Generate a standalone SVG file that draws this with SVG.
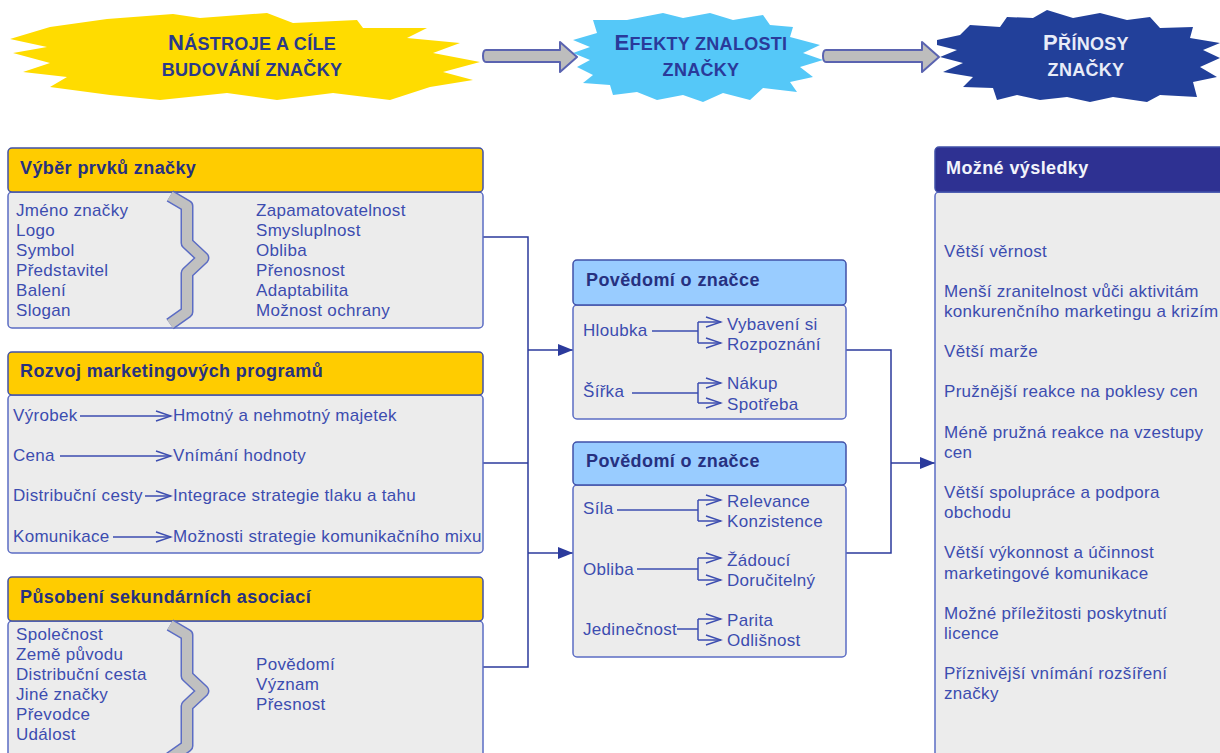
<svg xmlns="http://www.w3.org/2000/svg" width="1220" height="753" viewBox="0 0 1220 753">
  <style>
    text { font-family: "Liberation Sans", Arial, sans-serif; }
    .burst-title { font-weight: bold; font-size: 18px; text-anchor: middle; letter-spacing: 0.3px; }
    .burst-title .cap { font-size: 22px; }
    .hdr-y { fill: #ffcc00; stroke: #4050a8; stroke-width: 1.5; }
    .hdr-b { fill: #99ccff; stroke: #4050a8; stroke-width: 1.5; }
    .hdr-d { fill: #2e3192; stroke: #4050a8; stroke-width: 1.5; }
    .body { fill: #ececec; stroke: #5b6cc4; stroke-width: 1.5; }
    .title { font-weight: bold; font-size: 18px; fill: #263080; letter-spacing: 0.4px; }
    .title-w { font-weight: bold; font-size: 18px; fill: #f2f4fb; letter-spacing: 0.4px; }
    .txt { font-size: 17px; fill: #3c4db0; letter-spacing: 0.3px; }
    .conn { fill: none; stroke: #2b3a9c; stroke-width: 1.5; }
    .inner { fill: none; stroke: #3c4db0; stroke-width: 1.5; }
    .brace-out { fill: none; stroke: #5b6cc4; stroke-width: 13; stroke-linejoin: round; }
    .brace-in { fill: none; stroke: #c0c0c0; stroke-width: 10; stroke-linejoin: round; }
    .block-arrow { fill: #bdbdbd; stroke: #5a63b0; stroke-width: 2; stroke-linejoin: round; }
  </style>
  <defs>
    <marker id="solid" markerWidth="16" markerHeight="14" refX="15" refY="7" orient="auto" markerUnits="userSpaceOnUse">
      <path d="M0,1 L15,7 L0,13 z" fill="#2b3a9c"/>
    </marker>
    <marker id="open" markerWidth="18" markerHeight="12" refX="16" refY="6" orient="auto" markerUnits="userSpaceOnUse">
      <path d="M1,1 L16,6 L1,11" fill="none" stroke="#3c4db0" stroke-width="1.5"/>
    </marker>
  </defs>

  <rect width="1220" height="753" fill="#ffffff"/>

  <!-- phase bursts -->
  <g id="burst-tools">
    <polygon fill="#ffdc00" points="10,39 50,27 107,19 173,14 200,18 267,13 293,23 357,20 363,28 427,28 407,38 460,43 433,53 480,62 443,72 473,80 430,87 390,100 333,93 277,100 227,93 160,100 110,95 50,87 67,77 23,72 50,63 13,53 47,47"/>
    <text class="burst-title" fill="#2a3a8a" x="252" y="50"><tspan class="cap">N</tspan>ÁSTROJE A CÍLE</text>
    <text class="burst-title" fill="#2a3a8a" x="252" y="76">BUDOVÁNÍ ZNAČKY</text>
  </g>
  <g id="burst-effects">
    <polygon fill="#55c8f8" points="573,40 597,33 593,20 627,20 663,13 683,18 710,13 733,20 763,15 770,25 793,27 790,37 820,45 803,53 823,60 800,67 813,77 790,82 797,92 763,88 750,100 723,93 703,102 683,95 657,100 637,92 613,95 610,85 583,83 593,75 577,67 590,60 573,53 590,47"/>
    <text class="burst-title" fill="#2a3a9a" x="701" y="50"><tspan class="cap">E</tspan>FEKTY ZNALOSTI</text>
    <text class="burst-title" fill="#2a3a9a" x="701" y="76">ZNAČKY</text>
  </g>
  <g id="burst-benefits">
    <polygon fill="#22409a" points="937,40 960,35 970,25 1000,27 1007,17 1033,18 1047,10 1073,18 1100,13 1127,20 1150,17 1160,28 1193,27 1190,38 1220,43 1203,50 1220,58 1200,67 1217,77 1193,82 1197,97 1160,95 1147,102 1113,97 1090,102 1067,97 1040,100 1017,95 997,100 993,88 963,87 973,77 943,72 963,63 940,57 957,50 937,45"/>
    <text class="burst-title" fill="#e8ecf8" x="1086" y="50"><tspan class="cap">P</tspan>ŘÍNOSY</text>
    <text class="burst-title" fill="#e8ecf8" x="1086" y="76">ZNAČKY</text>
  </g>

  <!-- block arrows between phases -->
  <g id="phase-arrows">
    <path class="block-arrow" d="M486,50 H560 V42 L577,57 L560,72 V62 H486 Q483,62 483,56 Q483,50 486,50 z"/>
    <path class="block-arrow" d="M826,50 H922 V42 L939,57 L922,72 V62 H826 Q823,62 823,56 Q823,50 826,50 z"/>
  </g>

  <!-- connectors -->
  <g id="connectors">
    <path class="conn" d="M483,237 H528 V667 H483"/>
    <path class="conn" d="M483,463 H528"/>
    <path class="conn" d="M528,350 H573" marker-end="url(#solid)"/>
    <path class="conn" d="M528,553 H573" marker-end="url(#solid)"/>
    <path class="conn" d="M846,350 H891 V553 H846"/>
    <path class="conn" d="M891,463 H935" marker-end="url(#solid)"/>
  </g>

  <!-- left column -->
  <g id="brand-elements">
    <rect class="body" x="8" y="192" width="475" height="136" rx="4"/>
    <rect class="hdr-y" x="8" y="148" width="475" height="44" rx="4"/>
    <text class="title" x="20" y="174">Výběr prvků značky</text>
    <path class="brace-out" d="M170,196 L187,206 V243 L203,258 L187,273 V312 L170,324"/>
    <path class="brace-in" d="M170,196 L187,206 V243 L203,258 L187,273 V312 L170,324"/>
    <text class="txt" x="16" y="216">Jméno značky</text>
    <text class="txt" x="16" y="236">Logo</text>
    <text class="txt" x="16" y="256">Symbol</text>
    <text class="txt" x="16" y="276">Představitel</text>
    <text class="txt" x="16" y="296">Balení</text>
    <text class="txt" x="16" y="316">Slogan</text>
    <text class="txt" x="256" y="216">Zapamatovatelnost</text>
    <text class="txt" x="256" y="236">Smysluplnost</text>
    <text class="txt" x="256" y="256">Obliba</text>
    <text class="txt" x="256" y="276">Přenosnost</text>
    <text class="txt" x="256" y="296">Adaptabilita</text>
    <text class="txt" x="256" y="316">Možnost ochrany</text>
  </g>

  <g id="marketing-programs">
    <rect class="body" x="8" y="395" width="475" height="158" rx="4"/>
    <rect class="hdr-y" x="8" y="352" width="475" height="43" rx="4"/>
    <text class="title" x="20" y="377">Rozvoj marketingových programů</text>
    <text class="txt" x="13" y="421">Výrobek</text>
    <path class="inner" d="M80,416 H171" marker-end="url(#open)"/>
    <text class="txt" x="173" y="421">Hmotný a nehmotný majetek</text>
    <text class="txt" x="13" y="461">Cena</text>
    <path class="inner" d="M60,456 H171" marker-end="url(#open)"/>
    <text class="txt" x="173" y="461">Vnímání hodnoty</text>
    <text class="txt" x="13" y="501">Distribuční cesty</text>
    <path class="inner" d="M145,496 H171" marker-end="url(#open)"/>
    <text class="txt" x="173" y="501">Integrace strategie tlaku a tahu</text>
    <text class="txt" x="13" y="542">Komunikace</text>
    <path class="inner" d="M113,537 H171" marker-end="url(#open)"/>
    <text class="txt" x="173" y="542">Možnosti strategie komunikačního mixu</text>
  </g>

  <g id="secondary-associations">
    <rect class="body" x="8" y="621" width="475" height="150" rx="4"/>
    <rect class="hdr-y" x="8" y="577" width="475" height="44" rx="4"/>
    <text class="title" x="20" y="603">Působení sekundárních asociací</text>
    <path class="brace-out" d="M170,625 L187,635 V676 L203,691 L187,706 V746 L170,758"/>
    <path class="brace-in" d="M170,625 L187,635 V676 L203,691 L187,706 V746 L170,758"/>
    <text class="txt" x="16" y="640">Společnost</text>
    <text class="txt" x="16" y="660">Země původu</text>
    <text class="txt" x="16" y="680">Distribuční cesta</text>
    <text class="txt" x="16" y="700">Jiné značky</text>
    <text class="txt" x="16" y="720">Převodce</text>
    <text class="txt" x="16" y="740">Událost</text>
    <text class="txt" x="256" y="670">Povědomí</text>
    <text class="txt" x="256" y="690">Význam</text>
    <text class="txt" x="256" y="710">Přesnost</text>
  </g>

  <!-- middle column -->
  <g id="awareness-depth">
    <rect class="body" x="573" y="305" width="273" height="114" rx="4"/>
    <rect class="hdr-b" x="573" y="260" width="273" height="45" rx="4"/>
    <text class="title" x="586" y="286">Povědomí o značce</text>
    <text class="txt" x="583" y="336">Hloubka</text>
    <path class="inner" d="M652,331 H698 M698,322 V343"/>
    <path class="inner" d="M698,322 H721" marker-end="url(#open)"/>
    <path class="inner" d="M698,343 H721" marker-end="url(#open)"/>
    <text class="txt" x="727" y="330">Vybavení si</text>
    <text class="txt" x="727" y="350">Rozpoznání</text>
    <text class="txt" x="583" y="397">Šířka</text>
    <path class="inner" d="M632,393 H698 M698,383 V403"/>
    <path class="inner" d="M698,383 H721" marker-end="url(#open)"/>
    <path class="inner" d="M698,403 H721" marker-end="url(#open)"/>
    <text class="txt" x="727" y="389">Nákup</text>
    <text class="txt" x="727" y="410">Spotřeba</text>
  </g>

  <g id="awareness-image">
    <rect class="body" x="573" y="485" width="273" height="172" rx="4"/>
    <rect class="hdr-b" x="573" y="442" width="273" height="43" rx="4"/>
    <text class="title" x="586" y="467">Povědomí o značce</text>
    <text class="txt" x="583" y="514">Síla</text>
    <path class="inner" d="M617,510 H698 M698,500 V521"/>
    <path class="inner" d="M698,500 H721" marker-end="url(#open)"/>
    <path class="inner" d="M698,521 H721" marker-end="url(#open)"/>
    <text class="txt" x="727" y="507">Relevance</text>
    <text class="txt" x="727" y="527">Konzistence</text>
    <text class="txt" x="583" y="575">Obliba</text>
    <path class="inner" d="M637,569 H698 M698,558 V580"/>
    <path class="inner" d="M698,558 H721" marker-end="url(#open)"/>
    <path class="inner" d="M698,580 H721" marker-end="url(#open)"/>
    <text class="txt" x="727" y="566">Žádoucí</text>
    <text class="txt" x="727" y="586">Doručitelný</text>
    <text class="txt" x="583" y="635">Jedinečnost</text>
    <path class="inner" d="M677,629 H698 M698,619 V640"/>
    <path class="inner" d="M698,619 H721" marker-end="url(#open)"/>
    <path class="inner" d="M698,640 H721" marker-end="url(#open)"/>
    <text class="txt" x="727" y="626">Parita</text>
    <text class="txt" x="727" y="646">Odlišnost</text>
  </g>

  <!-- right column -->
  <g id="outcomes">
    <rect class="body" x="935" y="192" width="300" height="580" rx="4"/>
    <rect class="hdr-d" x="935" y="147" width="300" height="45" rx="4"/>
    <text class="title-w" x="946" y="174">Možné výsledky</text>
    <text class="txt" x="944" y="257">Větší věrnost</text>
    <text class="txt" x="944" y="297">Menší zranitelnost vůči aktivitám</text>
    <text class="txt" x="944" y="317">konkurenčního marketingu a krizím</text>
    <text class="txt" x="944" y="357">Větší marže</text>
    <text class="txt" x="944" y="397">Pružnější reakce na poklesy cen</text>
    <text class="txt" x="944" y="438">Méně pružná reakce na vzestupy</text>
    <text class="txt" x="944" y="458">cen</text>
    <text class="txt" x="944" y="498">Větší spolupráce a podpora</text>
    <text class="txt" x="944" y="518">obchodu</text>
    <text class="txt" x="944" y="558">Větší výkonnost a účinnost</text>
    <text class="txt" x="944" y="579">marketingové komunikace</text>
    <text class="txt" x="944" y="619">Možné příležitosti poskytnutí</text>
    <text class="txt" x="944" y="639">licence</text>
    <text class="txt" x="944" y="679">Příznivější vnímání rozšíření</text>
    <text class="txt" x="944" y="699">značky</text>
  </g>
</svg>
